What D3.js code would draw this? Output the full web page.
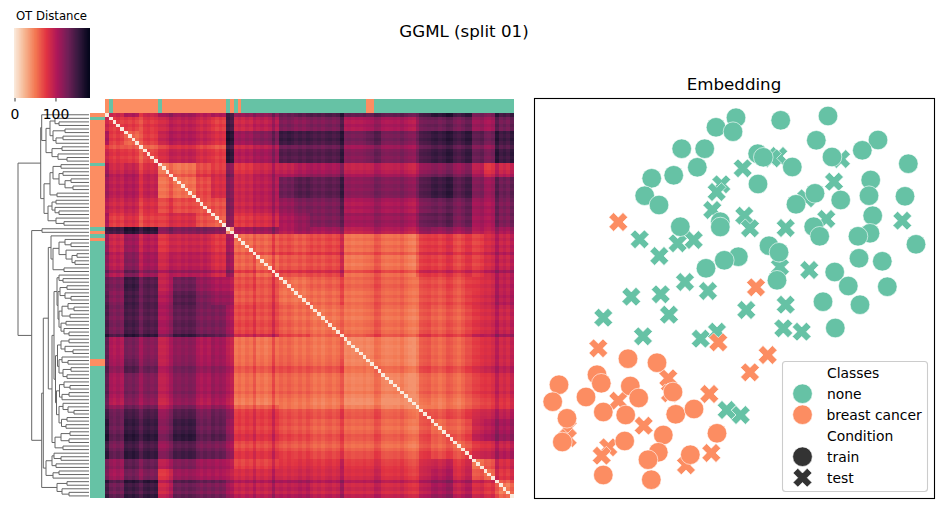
<!DOCTYPE html>
<html>
<head>
<meta charset="utf-8">
<script src="https://cdn.jsdelivr.net/npm/d3@7"></script>
<style>
  html, body { margin: 0; padding: 0; background: #fff; }
  svg { display: block; }
  text { font-family: "DejaVu Sans", sans-serif; fill: #000; }
</style>
</head>
<body>
<svg id="fig" width="944" height="508"></svg>
<script>
// Class colours and the rocket_r colour ramp used by the distance matrix
const CLASS_NONE = "#66c2a5";
const CLASS_CANCER = "#fc8d62";
const rampColors = ["#faebdd", "#f6b48f", "#f37651", "#e13342", "#ad1759", "#701f57", "#35193e", "#03051a"];
const distanceMax = 183;
const colorbarTicks = [0, 100];

// Sample order along both matrix axes: indices of the cancer samples
const cancerIndices = [0, 2, 3, 4, 5, 6, 7, 8, 9, 10, 11, 12, 13, 15, 16, 17, 18, 19, 20, 21, 22, 23, 24, 25,
  26, 27, 28, 29, 30, 31, 33, 35, 69, 70];
const sampleCount = 108;

// Blocks of neighbouring samples and the typical distance between each pair of blocks
const blockStarts = [0, 1, 5, 9, 14, 18, 24, 28, 32, 34, 40, 46, 50, 54, 62, 63, 69, 73, 82, 86, 92, 97, 100, 103];
const blockDistances = [
  [0, 90, 105, 90, 115, 110, 100, 105, 150, 115, 118, 135, 140, 145, 165, 140, 140, 140, 145, 160, 150, 130, 125, 150],
  [76, 76, 78, 94, 96, 88, 76, 150, 90, 97, 125, 120, 125, 145, 105, 112, 108, 125, 130, 125, 115, 108, 130],
  [60, 76, 100, 102, 94, 84, 165, 112, 122, 155, 150, 148, 165, 130, 140, 130, 143, 155, 150, 140, 130, 152],
  [70, 90, 94, 84, 76, 160, 100, 108, 142, 142, 142, 160, 122, 130, 125, 140, 152, 145, 135, 125, 152],
  [62, 60, 76, 82, 125, 85, 95, 100, 108, 112, 130, 102, 105, 105, 115, 125, 118, 105, 85, 95],
  [54, 70, 84, 122, 90, 98, 132, 142, 138, 158, 120, 125, 125, 138, 152, 140, 125, 112, 132],
  [66, 68, 125, 90, 97, 115, 125, 125, 145, 105, 110, 108, 120, 130, 125, 112, 105, 125],
  [62, 120, 78, 84, 105, 115, 125, 140, 112, 115, 115, 128, 135, 125, 110, 105, 125],
  [40, 105, 110, 100, 110, 105, 120, 95, 100, 100, 110, 110, 105, 100, 95, 105],
  [56, 60, 68, 64, 70, 90, 56, 60, 58, 70, 74, 68, 74, 85, 92],
  [54, 65, 65, 68, 90, 54, 60, 56, 70, 72, 68, 74, 85, 92],
  [56, 54, 60, 74, 60, 65, 62, 63, 65, 63, 80, 85, 95],
  [52, 56, 72, 56, 62, 60, 62, 63, 62, 82, 88, 98],
  [52, 62, 54, 60, 56, 60, 58, 58, 80, 85, 90],
  [50, 66, 74, 68, 76, 72, 72, 100, 100, 110],
  [50, 52, 52, 60, 58, 58, 80, 85, 90],
  [52, 54, 62, 60, 60, 82, 88, 92],
  [50, 57, 56, 56, 78, 82, 88],
  [54, 58, 60, 82, 85, 90],
  [52, 56, 90, 98, 105],
  [52, 78, 82, 90],
  [55, 66, 85],
  [56, 78],
  [52]
];
// How far each individual sample sits above or below its block
const sampleOffsets = [
  0, 2, -3, 3, -2, 2, -2, 3, -3, -12,
  0, 3, -2, 2, -8, -8, -4, 6, 0, -3,
  2, -2, 3, 0, 2, -3, 3, -2, 3, -3,
  2, -2, 4, -2, -2, 2, -3, 3, -1, 10,
  -2, 2, -3, 2, 18, 2, 2, -2, 3, -1,
  -2, 3, -2, 4, 3, -2, 2, -3, 2, 4,
  -1, 3, 0, -3, -1, -4, -2, -3, 0, -5,
  -3, 6, 4, -2, -4, -3, -1, -3, 2, -4,
  -8, -10, -10, 4, 6, 8, 2, 4, -1, 3,
  10, 8, 3, -1, 5, 12, 12, -3, -2, 2,
  0, -2, 3, 12, -2, 3, -3, 8
];

// Linkage tree: [merge distance, left, right], 0 stands for a leaf
const treeUpperA = [43,
  [39, [34, 0, [30, 0, 0]], [36, [24, 0, 0], [33, [26, 0, 0], 0]]],
  [37, [27, 0, 0], [31, 0, [22, 0, 0]]]];
const treeUpperB = [45,
  [39, [36, [28, 0, 0], [30, [26, 0, 0], [24, [18, 0, 0], [16, 0, 0]]]], [32, 0, 0]],
  [41, [37, [33, 0, 0], [34, 0, [30, 0, 0]]], [33, 0, [25, 0, 0]]]];
const treeUpper = [48.3, [47.3, 0, treeUpperA], treeUpperB];
const treeLowerHead = [38, 0, [36, [30, [24, 0, [18, 0, 0]], [23, 0, [17, [12, 0, 0], [14, 0, 0]]]], [25, 0, 0]]];
const treeMidA = [32, [30, 0, [26, 0, 0]],
  [31, [29, [22, 0, 0], [24, 0, [18, 0, 0]]],
    [30, [27, [21, 0, [15, 0, 0]], [19, 0, 0]], [28, [23, 0, 0], [25, 0, [20, 0, 0]]]]]];
const treeMidB = [33.5,
  [31.5, [28, [20, 0, 0], [24, 0, [16, 0, 0]]], [30, [27, 0, [21, 0, 0]], [26, [18, 0, 0], [22, 0, 0]]]],
  [32.5, [29.5, [25, 0, [19, 0, 0]], [27, [20, 0, 0], 0]],
    [30, [26, 0, [21, 0, [15, 0, 0]]], [27.5, [22, 0, 0], [23, 0, 0]]]]];
const treeMidC = [34, [28, [19, 0, 0], [20, 0, 0]], [26, 0, 0]];
const treeTail = [43, [37, [35, 0, [28, 0, 0]], [33, 0, 0]], [36, [30, 0, 0], 0]];
const treeEnd = [32, [22, 0, 0], [27, 0, [20, 0, 0]]];
const treeLower = [47.3,
  [45.7, [40.7, treeLowerHead, [37, [35, treeMidA, treeMidB], treeMidC]], treeTail],
  treeEnd];
const linkageTree = [71, treeUpper, [57.3, [47, 0, 0], treeLower]];

// Embedding coordinates of the samples, per class and condition
const noneTrainX = [202, 182, 199, 246.7, 294, 282.3, 344, 328.3, 298, 147.7, 170.7, 163.3, 139.7, 117.7, 110.7, 125,
  223.7, 229.3, 258.3, 224, 281, 306.7, 262, 374.3, 336.7, 335, 371, 338.7, 336, 324, 382, 279.7, 285.7, 186.3, 186.3,
  146.3, 235, 245, 204.3, 190.3, 172, 325, 348.3, 300.7, 243, 314.3, 353.3, 289, 326, 301.3];
const noneTrainY = [380.3, 370.7, 366.3, 377.7, 382, 357.7, 358, 347.7, 341, 349.3, 349.3, 330.7, 322.7, 319.7, 302.3, 293,
  344.3, 340.7, 331, 314, 304.7, 298, 293.7, 334.3, 318, 302.3, 301.7, 282.3, 264.7, 261.7, 253.7, 271.3, 261.7, 276.3, 271,
  271.3, 252.3, 245.7, 241.3, 237.7, 229.7, 239.7, 236.7, 226, 217.7, 212, 211.3, 196.3, 193.3, 170];
const noneTestX = [187.3, 182.7, 208.7, 244.3, 238, 272.3, 300, 307, 178.3, 210.3, 216, 251.7, 292.3, 368.3, 105.7, 125.3,
  143.7, 159.7, 246, 275.3, 69.3, 97.3, 126.7, 135, 151, 174, 109, 166.7, 183, 212.3, 251.7, 249.3, 267.7, 192.7, 206.7];
const noneTestY = [313.7, 306, 329.7, 342, 339.7, 299.7, 316.3, 339, 288, 282.3, 269.7, 270, 279, 277.3, 258.7, 242,
  254.7, 258, 231, 228, 180.3, 201.3, 203.7, 183.3, 216, 207, 161.7, 159.3, 166.3, 188, 193.3, 169.7, 166.3, 88, 83];
const cancerTrainX = [94, 123, 63, 67.3, 25, 18.7, 52, 96.3, 104.7, 139, 69.3, 91.7, 141.7, 160, 33, 28.3, 129.3, 183, 90.7,
  124.3, 114, 156.3, 69.3, 117.3];
const cancerTrainY = [139.3, 135.3, 123.3, 114.7, 113.3, 96.3, 101, 112, 100, 106, 86, 83, 83.7, 89, 79.7, 56, 63, 64.7, 57,
  45.7, 38.3, 43.3, 23, 18.3];
const cancerTestX = [64.3, 134.3, 136, 84.3, 175.3, 216, 233.7, 184.3, 109.7, 33.7, 33.7, 74.3, 67.7, 177.3, 152, 222, 84.3];
const cancerTestY = [149.7, 119.7, 104.7, 97.3, 104, 125.7, 143, 155.7, 72.3, 70, 60, 50.7, 42.3, 45, 32.7, 210.7, 276];

const legendClassLabels = ["none", "breast cancer"];
const legendConditionLabels = ["train", "test"];

const svg = d3.select("#fig");

// ---- distance matrix ----
const distanceColor = d3.scaleLinear()
  .domain(rampColors.map((_, i) => distanceMax * i / (rampColors.length - 1)))
  .range(rampColors)
  .clamp(true);

const samples = d3.range(sampleCount);
const blockOf = d3.scaleThreshold().domain(blockStarts.slice(1)).range(d3.range(blockStarts.length));
function distance(i, j) {
  if (i === j) return 0;
  const a = blockOf(Math.min(i, j)), b = blockOf(Math.max(i, j));
  return Math.max(40, blockDistances[a][b - a] + sampleOffsets[i] + sampleOffsets[j]);
}
const classColor = i => cancerIndices.includes(i) ? CLASS_CANCER : CLASS_NONE;

const colBand = d3.scaleBand().domain(samples).range([105, 514]);
const rowBand = d3.scaleBand().domain(samples).range([113, 497.7]);

const cells = samples.flatMap(r => samples.map(c => ({ r, c, v: distance(r, c) })));
svg.append("g").attr("shape-rendering", "crispEdges")
  .selectAll("rect").data(cells).join("rect")
  .attr("x", d => colBand(d.c)).attr("y", d => rowBand(d.r))
  .attr("width", colBand.bandwidth() + 0.3).attr("height", rowBand.bandwidth() + 0.3)
  .attr("fill", d => distanceColor(d.v));

// class strips along the top and the left of the matrix
svg.append("g").attr("shape-rendering", "crispEdges")
  .selectAll("rect").data(samples).join("rect")
  .attr("x", d => colBand(d)).attr("y", 99)
  .attr("width", colBand.bandwidth() + 0.3).attr("height", 14)
  .attr("fill", classColor);
svg.append("g").attr("shape-rendering", "crispEdges")
  .selectAll("rect").data(samples).join("rect")
  .attr("x", 90).attr("y", d => rowBand(d))
  .attr("width", 15).attr("height", rowBand.bandwidth() + 0.3)
  .attr("fill", classColor);

// ---- dendrogram ----
const treeX = d3.scaleLinear().domain([0, 71]).range([89, 18]);
const treeGroup = svg.append("g").attr("fill", "none").attr("stroke", "#666").attr("stroke-width", 1);
let nextLeaf = 0;
function drawNode(node) {
  if (node === 0) {
    const leaf = nextLeaf++;
    return { h: 0, y: rowBand(leaf) + rowBand.bandwidth() / 2 };
  }
  const a = drawNode(node[1]), b = drawNode(node[2]);
  const hx = treeX(node[0]);
  treeGroup.append("path")
    .attr("d", d3.line()([[treeX(a.h), a.y], [hx, a.y], [hx, b.y], [treeX(b.h), b.y]]));
  return { h: node[0], y: (a.y + b.y) / 2 };
}
drawNode(linkageTree);

// ---- colour bar ----
const barScale = d3.scaleLinear().domain([0, distanceMax]).range([14, 89]);
svg.append("g").attr("shape-rendering", "crispEdges")
  .selectAll("rect").data(d3.range(0, distanceMax, 1)).join("rect")
  .attr("x", d => barScale(d)).attr("y", 28)
  .attr("width", barScale(1) - barScale(0) + 0.5).attr("height", 70)
  .attr("fill", d => distanceColor(d));
const barAxis = svg.append("g").attr("transform", "translate(0.5,98)")
  .call(d3.axisBottom(barScale).tickValues(colorbarTicks).tickSize(3.5).tickPadding(8).tickFormat(d3.format("d")));
barAxis.select(".domain").remove();
barAxis.selectAll("line").attr("stroke", "#000").attr("stroke-width", 0.8);
barAxis.selectAll("text").attr("font-size", 13.9).attr("font-family", "DejaVu Sans");
svg.append("text").attr("x", 51.5).attr("y", 20).attr("text-anchor", "middle")
  .attr("font-size", 11.7).text("OT Distance");

// ---- titles ----
svg.append("text").attr("x", 464).attr("y", 37).attr("text-anchor", "middle")
  .attr("font-size", 16.67).text("GGML (split 01)");
svg.append("text").attr("x", 734).attr("y", 90).attr("text-anchor", "middle")
  .attr("font-size", 16.67).text("Embedding");

// ---- embedding scatter ----
const embedX = d3.scaleLinear().domain([0, 400]).range([534, 934]);
const embedY = d3.scaleLinear().domain([0, 400]).range([498, 98]);
const crossPoints = [[-1, -2], [0, -1], [1, -2], [2, -1], [1, 0], [2, 1], [1, 2], [0, 1], [-1, 2], [-2, 1], [-1, 0], [-2, -1]];
const crossUnit = 4.7;
const crossPath = d3.line().curve(d3.curveLinearClosed)(crossPoints.map(p => [p[0] * crossUnit, p[1] * crossUnit]));
const circleRadius = 9.8;

const marks = [
  ...noneTestX.map((x, i) => ({ x, y: noneTestY[i], color: CLASS_NONE, cross: true })),
  ...noneTrainX.map((x, i) => ({ x, y: noneTrainY[i], color: CLASS_NONE, cross: false })),
  ...cancerTestX.map((x, i) => ({ x, y: cancerTestY[i], color: CLASS_CANCER, cross: true })),
  ...cancerTrainX.map((x, i) => ({ x, y: cancerTrainY[i], color: CLASS_CANCER, cross: false }))
];
const markGroup = svg.append("g").attr("stroke", "#fff").attr("stroke-width", 0.6);
function drawMark(sel) {
  sel.each(function (d) {
    const g = d3.select(this);
    if (d.cross) g.append("path").attr("d", crossPath).attr("fill", d.color);
    else g.append("circle").attr("r", circleRadius).attr("fill", d.color);
  });
}
markGroup.selectAll("g").data(marks).join("g")
  .attr("transform", d => `translate(${embedX(d.x)},${embedY(d.y)})`)
  .call(drawMark);

svg.append("rect").attr("x", 534.5).attr("y", 98.5).attr("width", 400).attr("height", 400)
  .attr("fill", "none").attr("stroke", "#000").attr("stroke-width", 1.1);

// ---- legend ----
const legend = svg.append("g");
legend.append("rect").attr("x", 782.5).attr("y", 361.5).attr("width", 145).attr("height", 130)
  .attr("rx", 3).attr("fill", "#fff").attr("fill-opacity", 0.8)
  .attr("stroke", "#ccc").attr("stroke-width", 1.1);
const legendRows = [
  { label: "Classes" },
  { label: legendClassLabels[0], color: CLASS_NONE },
  { label: legendClassLabels[1], color: CLASS_CANCER },
  { label: "Condition" },
  { label: legendConditionLabels[0], color: "#333333" },
  { label: legendConditionLabels[1], color: "#333333", cross: true }
];
const legendY = d3.scaleLinear().domain([0, 5]).range([372.7, 477.7]);
legendRows.forEach((row, i) => {
  const y = legendY(i);
  legend.append("text").attr("x", row.label === "breast cancer" ? 826.5 : 827).attr("y", y + 5)
    .attr("font-size", 13.9).text(row.label);
  if (!row.color) return;
  if (row.cross) {
    legend.append("path").attr("d", crossPath).attr("transform", `translate(802.5,${y})`)
      .attr("fill", row.color).attr("stroke", "#fff").attr("stroke-width", 0.6);
  } else {
    legend.append("circle").attr("cx", 802.5).attr("cy", y).attr("r", circleRadius)
      .attr("fill", row.color).attr("stroke", "#fff").attr("stroke-width", 0.6);
  }
});
</script>
</body>
</html>
